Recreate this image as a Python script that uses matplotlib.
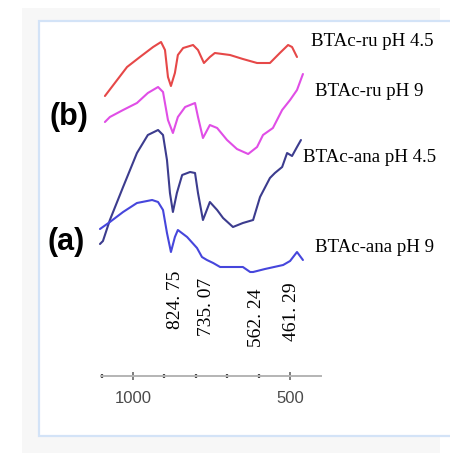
import matplotlib
matplotlib.use("Agg")
import matplotlib.pyplot as plt
from matplotlib.patches import Rectangle

W, H, DPI = 450, 461, 100

# FTIR spectra, wavenumber (cm-1) vs offset transmittance (a.u.)
ru45_x = [1028, 998, 961, 922, 882, 858, 846, 837, 828, 816, 807, 791, 761, 746, 728,
          710, 695, 649, 610, 567, 528, 498, 473, 461, 446]
ru45_y = [77.6, 82.8, 89.2, 93.2, 97.2, 99.2, 96.0, 85.2, 81.6, 86.8, 94.0, 96.8, 98.0,
          96.0, 90.8, 93.2, 94.8, 94.0, 92.4, 90.8, 90.8, 94.8, 98.0, 97.2, 93.2]

ru9_x = [1028, 1013, 973, 931, 898, 867, 852, 837, 822, 807, 785, 755, 746, 731, 710,
         688, 658, 628, 594, 567, 549, 519, 491, 467, 446, 428]
ru9_y = [67.2, 69.2, 72.0, 74.8, 78.8, 81.2, 79.2, 68.0, 62.8, 69.2, 73.2, 74.8, 69.2,
         60.8, 66.0, 64.8, 60.0, 56.4, 54.4, 57.2, 62.0, 64.8, 72.0, 76.0, 80.0, 86.4]

ana45_x = [1043, 1034, 1013, 973, 931, 898, 867, 852, 840, 831, 822, 810, 794, 770, 755,
           746, 731, 710, 688, 670, 640, 610, 579, 558, 528, 513, 491, 476, 461, 446, 434]
ana45_y = [18.4, 19.6, 28.0, 41.2, 54.8, 62.0, 64.0, 62.0, 52.0, 38.8, 31.2, 38.8, 46.0,
           47.2, 46.8, 38.8, 28.0, 35.2, 32.0, 28.8, 25.2, 26.8, 28.0, 37.2, 44.8, 46.8,
           49.2, 54.8, 53.6, 57.2, 60.0]

ana9_x = [1043, 1013, 973, 931, 885, 867, 852, 840, 828, 816, 807, 779, 749, 734, 719,
          700, 679, 610, 588, 579, 543, 488, 467, 446, 428]
ana9_y = [24.4, 27.2, 31.2, 34.8, 36.0, 35.2, 32.0, 22.8, 15.2, 21.2, 24.0, 21.2, 16.8,
          13.2, 12.0, 10.8, 9.2, 9.2, 7.2, 7.2, 8.4, 10.0, 11.6, 15.2, 12.0]

series_names = ["BTAc-ru pH 4.5", "BTAc-ru pH 9", "BTAc-ana pH 4.5", "BTAc-ana pH 9"]
series_colors = ["#e64848", "#e04ee6", "#3c3c8e", "#4646dc"]

peak_values = [824.75, 735.07, 562.24, 461.29]
peak_labels = ["824. 75", "735. 07", "562. 24", "461. 29"]

scale_ticks = [1000, 500]
scale_minor = [1100, 900, 800, 700, 600]


def fx(px):
    return px / W


def fy(py):
    return 1 - py / H


fig = plt.figure(figsize=(W / DPI, H / DPI), dpi=DPI, facecolor="white")

# page panel and framed white plot area (behind the axes)
fig.patches.append(Rectangle((fx(22), fy(453)), fx(440) - fx(22), fy(8) - fy(453),
                             transform=fig.transFigure, facecolor="#f7f7f7",
                             edgecolor="none", zorder=-3))
fig.patches.append(Rectangle((fx(39), fy(436)), fx(460) - fx(39), fy(21) - fy(436),
                             transform=fig.transFigure, facecolor="white",
                             edgecolor="#d3e3f7", linewidth=1.6, zorder=-2))

# spectra axes
ax = fig.add_axes([fx(95), fy(290), fx(310) - fx(95), fy(40) - fy(290)])
ax.set_xlim(1058.1, 406.6)
ax.set_ylim(0, 100)
ax.axis("off")
ax.patch.set_alpha(0)

for xs, ys, c in zip([ru45_x, ru9_x, ana45_x, ana9_x],
                     [ru45_y, ru9_y, ana45_y, ana9_y], series_colors):
    ax.plot(xs, ys, color=c, lw=1.5, solid_joinstyle="round", solid_capstyle="round")

label_dx = [3, 5, -2, 0]
label_y = [-4.0, -6.8, -11.2, -8.8]
for v, t, dx, yy in zip(peak_values, peak_labels, label_dx, label_y):
    ax.annotate(t, xy=(v, yy), xytext=(dx, 0), textcoords="offset pixels",
                rotation=90, ha="center", va="center", fontsize=14,
                family="Liberation Serif", color="black", annotation_clip=False)

# series names
name_pos = [(311, 42), (315, 91), (303, 157), (315, 247)]
for name, (px, py) in zip(series_names, name_pos):
    fig.text(fx(px), fy(py), name, ha="left", va="center", fontsize=13.6,
             family="Liberation Serif", color="black")

fig.text(fx(69), fy(117), "(b)", ha="center", va="center", fontsize=22,
         fontweight="bold", family="Liberation Sans")
fig.text(fx(66), fy(242), "(a)", ha="center", va="center", fontsize=22,
         fontweight="bold", family="Liberation Sans")

# wavenumber scale bar
sax = fig.add_axes([fx(101), fy(375.7), fx(321) - fx(101), 0.01])
sax.set_xlim(1102, 401.3)
sax.patch.set_alpha(0)
for s in ["top", "left", "right"]:
    sax.spines[s].set_visible(False)
sax.spines["bottom"].set_color("#b4b4b4")
sax.spines["bottom"].set_linewidth(1.4)
sax.set_yticks([])
sax.set_xticks(scale_ticks)
sax.set_xticklabels([str(v) for v in scale_ticks])
sax.set_xticks(scale_minor, minor=True)
sax.tick_params(axis="x", which="major", direction="inout", length=6, width=1.1,
                color="#5a5a5a", pad=8, labelsize=12, labelcolor="#4a4a4a")
sax.tick_params(axis="x", which="minor", direction="inout", length=2.5, width=1.6,
                color="#4a4a4a")
for lab in sax.get_xticklabels():
    lab.set_family("Liberation Sans")

fig.savefig("out.png", dpi=DPI, facecolor="white")
